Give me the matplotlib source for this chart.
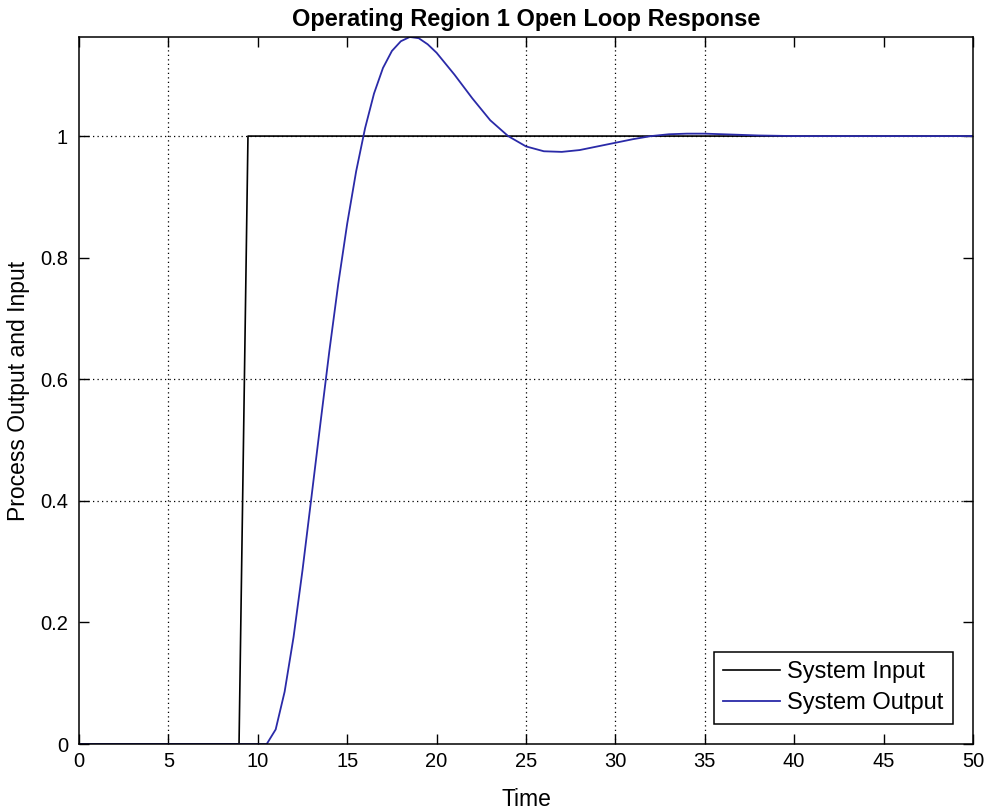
import matplotlib; matplotlib.use("Agg")
import matplotlib.pyplot as plt

plt.rcParams["font.family"] = ["Liberation Sans", "DejaVu Sans"]

# step applied to the process
t_in = [0, 8.95, 9.45, 50]
u_in = [0, 0, 1, 1]

# measured process output
t_out = [0, 10.5, 11, 11.5, 12, 12.5, 13, 13.5, 14, 14.5, 15, 15.5, 16, 16.5, 17,
         17.5, 18, 18.5, 19, 19.5, 20, 21, 22, 23, 24, 25, 26, 27, 28, 29, 30,
         31, 32, 33, 34, 35, 36, 38, 40, 50]
y_out = [0, 0, 0.024, 0.086, 0.176, 0.286, 0.406, 0.527, 0.646, 0.757, 0.856,
         0.942, 1.013, 1.070, 1.112, 1.140, 1.156, 1.163, 1.161, 1.151, 1.137,
         1.101, 1.062, 1.026, 1.000, 0.983, 0.975, 0.974, 0.977, 0.983, 0.989,
         0.995, 1.000, 1.003, 1.004, 1.004, 1.003, 1.001, 1.0, 1.0]

x_ticks = list(range(0, 51, 5))
y_ticks = [0, 0.2, 0.4, 0.6, 0.8, 1]
x_grid = [5, 25, 30, 35]
y_grid = [0.4, 0.6, 1.0]

fig = plt.figure(figsize=(9.84, 8.11), dpi=100)
ax = fig.add_axes([0.0803, 0.0826, 0.9085, 0.8718])

dots = dict(color="black", lw=0.9, ls=(0, (1, 2.6)), zorder=0)
for x in x_grid:
    ax.axvline(x, **dots)
for y in y_grid:
    ax.axhline(y, **dots)

ax.plot(t_in, u_in, color="black", lw=1.2, label="System Input")
ax.plot(t_out, y_out, color="#2a2aa8", lw=1.3, label="System Output")

ax.set_xlim(0, 50)
ax.set_ylim(0, 1.163)
ax.set_xticks(x_ticks)
ax.set_yticks(y_ticks)
ax.set_yticklabels(["0", "0.2", "0.4", "0.6", "0.8", "1"])
ax.tick_params(direction="in", length=7, width=1, top=True, right=True,
               labelsize=14.5, colors="black")
ax.tick_params(axis="x", pad=6)
ax.tick_params(axis="y", pad=8)
for s in ax.spines.values():
    s.set_linewidth(1.1)

ax.set_title("Operating Region 1 Open Loop Response", fontsize=17,
             fontweight="bold", pad=8)
ax.set_xlabel("Time", fontsize=16.5, labelpad=12)
ax.set_ylabel("Process Output and Input", fontsize=16.5, labelpad=7)

leg = ax.legend(loc="lower right", fontsize=17, fancybox=False, framealpha=1,
                edgecolor="black", borderaxespad=0.85, handlelength=2.4,
                handletextpad=0.3, labelspacing=0.4, borderpad=0.4)
leg.get_frame().set_linewidth(1.1)

fig.savefig("out.png", dpi=100)
